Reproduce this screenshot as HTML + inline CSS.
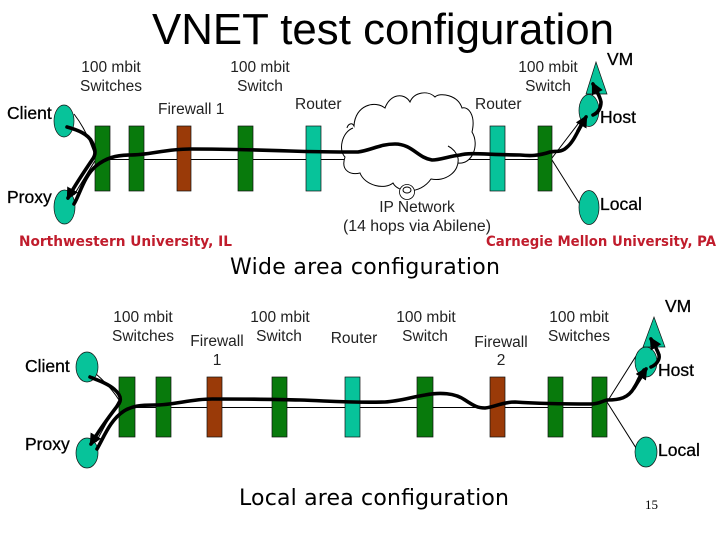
<!DOCTYPE html>
<html><head><meta charset="utf-8"><style>
html,body{margin:0;padding:0;background:#fff}
svg{display:block}
text{font-family:"Liberation Sans",sans-serif;fill:#000}
.l{font-size:15.5px;fill:#222}
.b{font-size:17.5px;stroke:#000;stroke-width:.3px}
.r{font-family:"DejaVu Sans",sans-serif;font-size:14px;fill:#c01c2c;font-weight:bold}
.c{font-family:"DejaVu Sans",sans-serif;font-size:22px}
.t{fill:none;stroke:#000;stroke-width:3.6;stroke-linecap:round;stroke-linejoin:round}
.n{fill:none;stroke:#000;stroke-width:1}
.g{fill:#087a0c;stroke:#111;stroke-width:.7}
.f{fill:#9a3a08;stroke:#111;stroke-width:.7}
.q{fill:#07c39a;stroke:#111;stroke-width:.7}
</style></head><body>
<svg width="720" height="540" viewBox="0 0 720 540" xmlns="http://www.w3.org/2000/svg">
<defs><marker id="a" viewBox="0 0 10 10" refX="8" refY="5" markerWidth="3.4" markerHeight="3.4" orient="auto"><path d="M0 0L10 5L0 10z"/></marker></defs>
<rect width="720" height="540" fill="#fff"/>
<text x="152" y="44" font-size="44" textLength="462" lengthAdjust="spacingAndGlyphs">VNET test configuration</text>

<!-- thin links top -->
<path class="n" d="M74 114Q88 132 96 159L74 195M110 159.500H345M450 159.500H538M552 158L581 120M552 160L581 206"/>
<!-- cloud -->
<path class="n" fill="#fff" d="M353 128C342 132 338 150 345 157C340 172 352 175 360 173C365 186 385 190 393 183C398 193 420 195 431 179C445 182 460 172 458 158C456 151 452 148 448 146M458 163C472 165 480 145 472 132C476 115 468 106 462 108C458 95 440 92 435 97C428 90 414 92 410 102C404 92 390 94 385 108C375 100 355 105 354 126C352 122 348 124 347 128" style="fill:#fff"/>
<circle cx="407" cy="192" r="7.500" fill="#fff" stroke="#000" stroke-width=".8"/><ellipse cx="407" cy="190" rx="4" ry="3" fill="none" stroke="#000"/>
<!-- nodes top -->
<g>
<rect class="g" x="95" y="126" width="15" height="65"/><rect class="g" x="129" y="126" width="15" height="65"/>
<rect class="f" x="177" y="126" width="14" height="65"/><rect class="g" x="238" y="126" width="15" height="65"/>
<rect class="q" x="306" y="126" width="15" height="65"/><rect class="q" x="490" y="126" width="15" height="65"/>
<rect class="g" x="538" y="126" width="14" height="65"/>
<ellipse class="q" cx="64" cy="121" rx="10" ry="16"/><ellipse class="q" cx="64.500" cy="207" rx="10.500" ry="17"/>
<ellipse class="q" cx="589" cy="110.500" rx="10" ry="16"/><ellipse class="q" cx="589" cy="207.500" rx="10" ry="17"/>
<path class="q" d="M596 62L607 94H586Z"/>
</g>
<!-- thick top -->
<path class="t" marker-end="url(#a)" d="M67 127C78 130 88 134 92 142C96 150 96 155 92 160C84 172 75 185 68 198"/>
<path class="t" d="M74 204C80 194 84 176 96 166C106 158 116 155 130 155C150 155 165 149 190 149C220 149 260 150 290 151C320 152 340 152 358 152C372 150 380 144 395 144C412 144 418 158 432 160C440 160 450 156 460 155C470 152 490 155 520 155C530 156 538 156 550 152C556 151 562 152 566 148C574 142 578 130 584 120"/>
<path class="t" marker-end="url(#a)" d="M593 115C598 113 601 108 601 102C600 96 596 90 593 84"/>
<path class="t" marker-end="url(#a)" d="M578 131L586 117"/>

<!-- top labels -->
<text class="l" x="111" y="72" text-anchor="middle">100 mbit</text><text class="l" x="111" y="91" text-anchor="middle">Switches</text>
<text class="l" x="260" y="72" text-anchor="middle">100 mbit</text><text class="l" x="260" y="91" text-anchor="middle">Switch</text>
<text class="l" x="158" y="114">Firewall 1</text>
<text class="l" x="295" y="109">Router</text>
<text class="l" x="475" y="109">Router</text>
<text class="l" x="548" y="72" text-anchor="middle">100 mbit</text><text class="l" x="548" y="91" text-anchor="middle">Switch</text>
<text class="b" x="7" y="119">Client</text><text class="b" x="7" y="203">Proxy</text>
<text class="b" x="607" y="65">VM</text><text class="b" x="600" y="123">Host</text><text class="b" x="600" y="210">Local</text>
<text class="l" x="417" y="212" text-anchor="middle">IP Network</text>
<text class="l" x="417" y="231" text-anchor="middle" textLength="148" lengthAdjust="spacingAndGlyphs">(14 hops via Abilene)</text>
<text class="r" x="19" y="246" textLength="213" lengthAdjust="spacingAndGlyphs">Northwestern University, IL</text>
<text class="r" x="486" y="246" textLength="230" lengthAdjust="spacingAndGlyphs">Carnegie Mellon University, PA</text>
<text class="c" x="230" y="274" textLength="270" lengthAdjust="spacing">Wide area configuration</text>

<!-- bottom thin -->
<path class="n" d="M96 374Q110 386 119 400L96 442M135 407.500H592M607 402L636 356M607 402L636 448"/>
<!-- bottom nodes -->
<rect class="g" x="119" y="377" width="16" height="60"/><rect class="g" x="156" y="377" width="15" height="60"/>
<rect class="f" x="207" y="377" width="15" height="60"/><rect class="g" x="272" y="377" width="15" height="60"/>
<rect class="q" x="345" y="377" width="15" height="60"/><rect class="g" x="417" y="377" width="16" height="60"/>
<rect class="f" x="490" y="377" width="15" height="60"/><rect class="g" x="548" y="377" width="15" height="60"/>
<rect class="g" x="592" y="377" width="15" height="60"/>
<ellipse class="q" cx="87" cy="367" rx="11" ry="15"/><ellipse class="q" cx="87" cy="453" rx="11" ry="15"/>
<ellipse class="q" cx="646" cy="362" rx="11" ry="15"/><ellipse class="q" cx="646" cy="452" rx="11" ry="15"/>
<path class="q" d="M654 317L665 347H643Z"/>
<!-- bottom thick -->
<path class="t" marker-end="url(#a)" d="M90 377C100 381 108 384 114 389C121 395 122 400 118 405C108 418 98 432 91 444"/>
<path class="t" d="M97 449C104 437 110 420 124 411C132 406 140 405 155 405C175 405 190 399 212 399C240 399 270 399 300 400C330 401 350 403 385 402C400 401 412 397 425 395C440 392 455 393 465 400C474 406 478 408 485 408C495 407 502 402 515 402C530 403 560 404 590 404C600 404 602 401 607 400C620 400 628 398 634 388C638 382 640 375 644 370"/>
<path class="t" marker-end="url(#a)" d="M651 367C656 365 660 360 659 355C657 349 654 344 651 339"/>
<path class="t" marker-end="url(#a)" d="M634 388L646 369"/>
<!-- bottom labels -->
<text class="l" x="143" y="322" text-anchor="middle">100 mbit</text><text class="l" x="143" y="341" text-anchor="middle">Switches</text>
<text class="l" x="280" y="322" text-anchor="middle">100 mbit</text><text class="l" x="279" y="341" text-anchor="middle">Switch</text>
<text class="l" x="217" y="346" text-anchor="middle">Firewall</text><text class="l" x="217" y="365" text-anchor="middle">1</text>
<text class="l" x="354" y="343" text-anchor="middle">Router</text>
<text class="l" x="426" y="322" text-anchor="middle">100 mbit</text><text class="l" x="425" y="341" text-anchor="middle">Switch</text>
<text class="l" x="501" y="347" text-anchor="middle">Firewall</text><text class="l" x="501" y="365" text-anchor="middle">2</text>
<text class="l" x="579" y="322" text-anchor="middle">100 mbit</text><text class="l" x="579" y="341" text-anchor="middle">Switches</text>
<text class="b" x="25" y="372">Client</text><text class="b" x="25" y="450">Proxy</text>
<text class="b" x="665" y="312">VM</text><text class="b" x="658" y="376">Host</text><text class="b" x="658" y="456">Local</text>
<text class="c" x="239" y="505" textLength="270" lengthAdjust="spacing">Local area configuration</text>
<text x="645" y="509" font-size="13" style="font-family:'Liberation Serif',serif">15</text>
</svg>
</body></html>
